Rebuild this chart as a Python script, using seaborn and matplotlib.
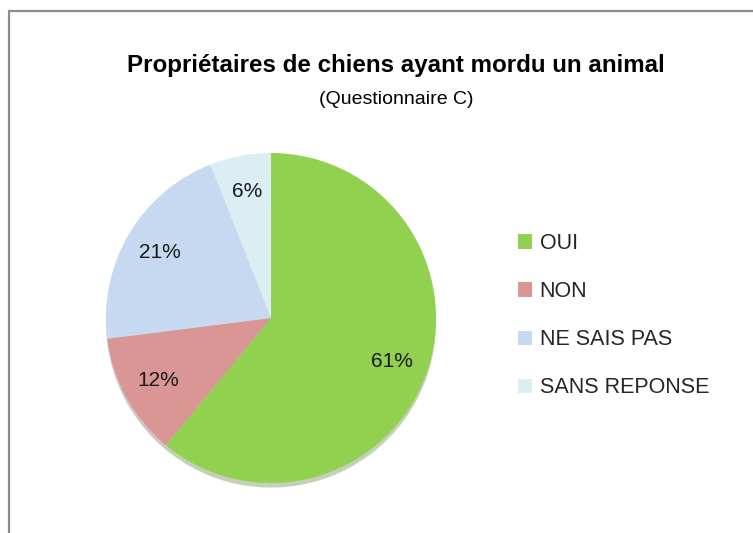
import matplotlib
matplotlib.use("Agg")
import matplotlib.pyplot as plt
import seaborn as sns
from matplotlib.patches import Rectangle, Patch

# Data
categories = ["OUI", "NON", "NE SAIS PAS", "SANS REPONSE"]
values = [61, 12, 21, 6]
colors = ["#92D050", "#D99694", "#C6D9F1", "#DBEEF4"]

title = "Propriétaires de chiens ayant mordu un animal"
subtitle = "(Questionnaire C)"


def main():
    sns.set_theme(style="white")
    plt.rcParams["font.family"] = ["Liberation Sans", "DejaVu Sans"]

    W, H = 753, 533
    fig = plt.figure(figsize=(W / 100, H / 100), dpi=100)
    fig.patch.set_facecolor("white")

    # outer chart frame (runs off the right and bottom edges)
    fig.patches.append(Rectangle((9 / W, -0.1), 1.2, 1 - 11 / H + 0.1,
                                 transform=fig.transFigure, fill=False,
                                 edgecolor="#8c8c8c", linewidth=1.6))

    # pie axes: centre (271, 318), radius 165 px
    cx, cy, r = 271, 318, 165
    ax = fig.add_axes([(cx - r) / W, (H - cy - r) / H, 2 * r / W, 2 * r / H])
    wedges, texts, autotexts = ax.pie(
        values, colors=colors, startangle=90, counterclock=False,
        autopct="%1.0f%%", pctdistance=0.78,
        shadow={"ox": 0.0, "oy": -0.02, "shade": 0.4, "alpha": 0.35},
        wedgeprops={"linewidth": 0},
        textprops={"fontsize": 15, "color": "#1a1a1a"})
    ax.set_xlim(-1, 1)
    ax.set_ylim(-1, 1)
    ax.set_aspect("equal")
    ax.axis("off")

    fig.text(396 / W, 1 - 66 / H, title, ha="center", va="center",
             fontsize=17.4, fontweight="bold", color="black")
    fig.text(396 / W, 1 - 100 / H, subtitle, ha="center", va="center",
             fontsize=14, color="black")

    handles = [Patch(facecolor=c, edgecolor="none") for c in colors]
    fig.legend(handles, categories, loc="upper left",
               bbox_to_anchor=(518 / W, 1 - 233 / H), frameon=False,
               fontsize=15.5, handlelength=0.65, handleheight=0.65,
               handletextpad=0.35, labelspacing=1.26,
               borderpad=0, borderaxespad=0)

    plt.savefig("out.png", dpi=100)


if __name__ == "__main__":
    main()
